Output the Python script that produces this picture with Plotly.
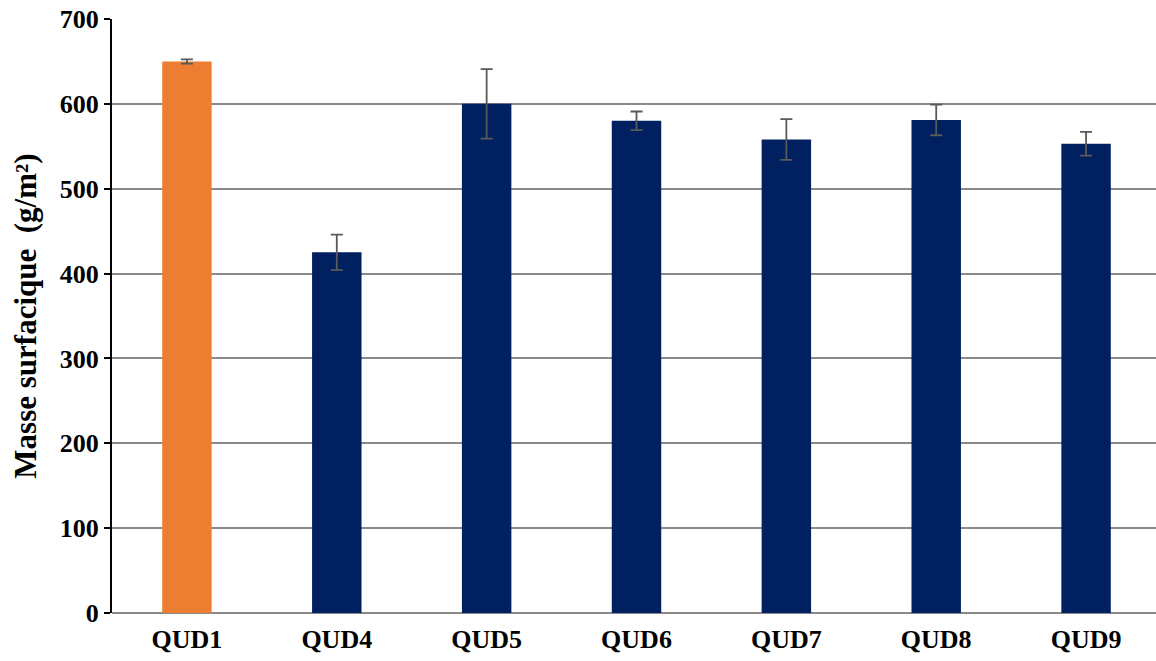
import plotly.graph_objects as go

categories = ["QUD1", "QUD4", "QUD5", "QUD6", "QUD7", "QUD8", "QUD9"]
values = [650, 425, 600, 580, 558, 581, 553]
errors = [2.5, 21, 41, 11, 24, 18, 14]
colors = ["#ED7D31", "#002060", "#002060", "#002060", "#002060", "#002060", "#002060"]
y_ticks = [0, 100, 200, 300, 400, 500, 600, 700]

font_family = "Liberation Serif, Times New Roman, serif"

fig = go.Figure(
    go.Bar(
        x=categories,
        y=values,
        marker=dict(color=colors, line=dict(width=0)),
        error_y=dict(type="data", array=errors, visible=True,
                     color="#595959", thickness=1.8, width=6),
    )
)

fig.update_layout(
    width=1161,
    height=661,
    margin=dict(l=112, r=0, t=19, b=48),
    paper_bgcolor="white",
    plot_bgcolor="white",
    bargap=0.67,
    showlegend=False,
    font=dict(family=font_family, color="black"),
    xaxis=dict(
        showline=False,
        tickfont=dict(family=font_family, size=26, color="black", weight="bold"),
        ticks="",
        showgrid=False,
        ticklabelstandoff=8,
    ),
    yaxis=dict(
        range=[0, 700],
        tickvals=y_ticks,
        tickfont=dict(family=font_family, size=26, color="black", weight="bold"),
        showline=True,
        linecolor="black",
        linewidth=2,
        ticks="outside",
        ticklen=6,
        tickwidth=2,
        tickcolor="black",
        showgrid=True,
        gridcolor="#8A8A8A",
        gridwidth=2,
        zeroline=True,
        zerolinecolor="#8A8A8A",
        zerolinewidth=2,
        title=dict(text="Masse surfacique  (g/m²)",
                   font=dict(family=font_family, size=31, color="black", weight="bold"),
                   standoff=14),
    ),
)

fig.write_html(
    "out.html",
    config={"displayModeBar": False},
    post_script="document.body.style.margin='0';document.body.style.overflow='hidden';",
)
